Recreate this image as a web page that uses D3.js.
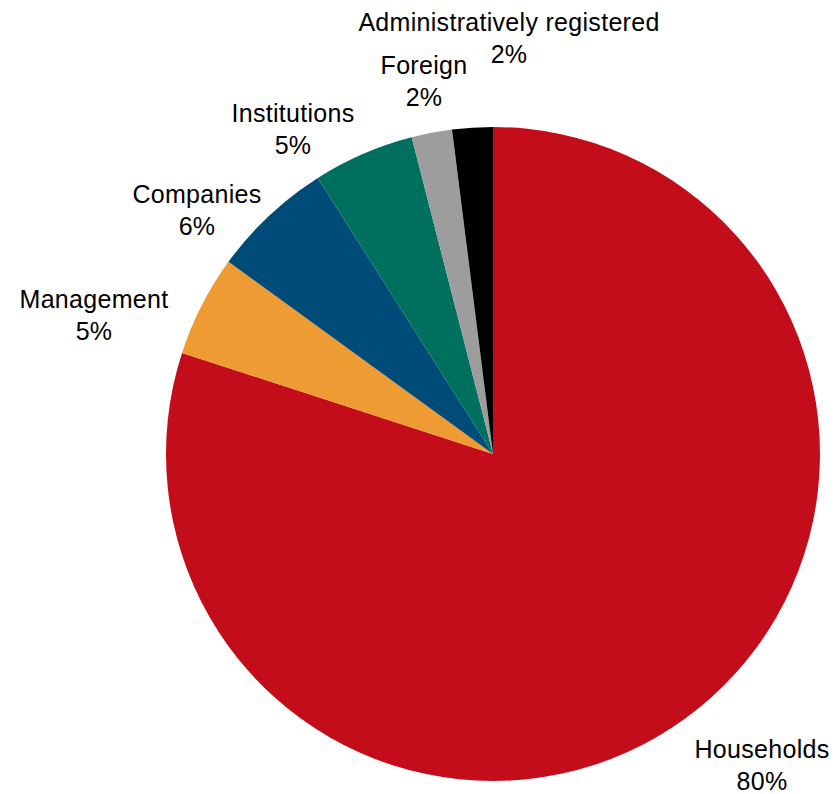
<!DOCTYPE html>
<html>
<head>
<meta charset="utf-8">
<script src="https://cdn.jsdelivr.net/npm/d3@7/dist/d3.min.js"></script>
<style>
  html, body { margin: 0; padding: 0; background: #fff; }
  svg { display: block; }
  text { font-family: "Liberation Sans", Arial, sans-serif; fill: #000; letter-spacing: 0.3px; }
</style>
</head>
<body>
<svg id="chart" width="837" height="794"></svg>
<script>
// Ownership structure, share in percent (clockwise from 12 o'clock)
const categories = ["Households", "Management", "Companies", "Institutions", "Foreign", "Administratively registered"];
const shares = [80, 5, 6, 5, 2, 2];
const colors = ["#C40D1A", "#EF9B33", "#004C79", "#00705E", "#9D9D9D", "#000000"];

// Label block placement relative to the pie centre: [centre x offset, first baseline offset]
const labelOffsets = [[269, 304], [-399, -146], [-296, -251], [-200, -332], [-69, -380], [16, -423]];

const width = 837, height = 794;
const cx = 493, cy = 454, radius = 327;
const fontSize = 25, lineGap = 32;

const svg = d3.select("#chart");
const g = svg.append("g").attr("transform", `translate(${cx},${cy})`);

const data = categories.map((name, i) => ({ name, value: shares[i], color: colors[i], offset: labelOffsets[i] }));

const pie = d3.pie().value(d => d.value).sort(null);
const arc = d3.arc().innerRadius(0).outerRadius(radius);

const arcs = pie(data);

g.selectAll("path.slice")
  .data(arcs)
  .join("path")
  .attr("class", "slice")
  .attr("d", arc)
  .attr("fill", d => d.data.color);

const labels = g.selectAll("text.label")
  .data(arcs)
  .join("text")
  .attr("class", "label")
  .attr("text-anchor", "middle")
  .attr("font-size", fontSize);

labels.append("tspan")
  .attr("x", d => d.data.offset[0])
  .attr("y", d => d.data.offset[1])
  .text(d => d.data.name);

labels.append("tspan")
  .attr("x", d => d.data.offset[0])
  .attr("y", d => d.data.offset[1] + lineGap)
  .text(d => d3.format(".0f")(d.data.value) + "%");
</script>
</body>
</html>
